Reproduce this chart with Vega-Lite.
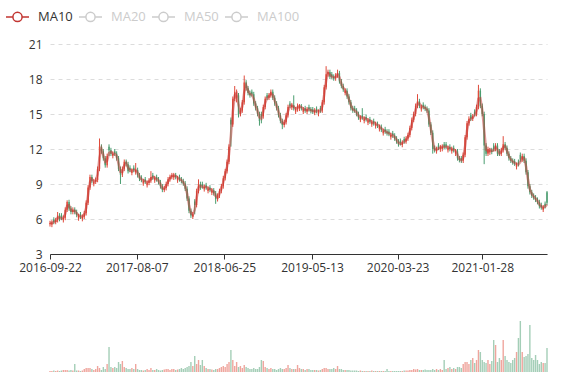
{
"$schema":"https://vega.github.io/schema/vega-lite/v6.json",
"padding":{"left":5,"top":4,"right":0,"bottom":0},
"spacing":39,
"config":{"view":{"stroke":null},"font":"Open Sans"},
"datasets":{"k":[
{"d":"2016-09-22","o":5.55,"c":5.65,"h":5.85,"l":5.35,"m":5.65,"v":1},
{"d":"2016-09-29","o":5.5,"c":5.7,"h":5.9,"l":5.3,"m":5.68,"v":1},
{"d":"2016-10-06","o":5.95,"c":5.75,"h":6.15,"l":5.55,"m":5.73,"v":1.5},
{"d":"2016-10-13","o":5.75,"c":5.9,"h":6.1,"l":5.55,"m":5.83,"v":1},
{"d":"2016-10-20","o":5.9,"c":6.3,"h":6.6,"l":5.7,"m":6.1,"v":1.5},
{"d":"2016-10-27","o":6.3,"c":6.0,"h":6.5,"l":5.8,"m":6.15,"v":1},
{"d":"2016-11-03","o":6.3,"c":6.1,"h":6.5,"l":5.9,"m":6.05,"v":1.5},
{"d":"2016-11-10","o":5.9,"c":6.1,"h":6.3,"l":5.7,"m":6.1,"v":2},
{"d":"2016-11-17","o":6.1,"c":6.8,"h":7.0,"l":5.9,"m":6.45,"v":2},
{"d":"2016-11-24","o":6.8,"c":7.45,"h":7.6,"l":6.6,"m":7.13,"v":2},
{"d":"2016-12-01","o":7.45,"c":6.9,"h":7.65,"l":6.7,"m":7.18,"v":1.5},
{"d":"2016-12-08","o":6.9,"c":6.6,"h":7.1,"l":6.4,"m":6.75,"v":2},
{"d":"2016-12-15","o":6.6,"c":6.8,"h":7.0,"l":6.4,"m":6.7,"v":1.5},
{"d":"2016-12-22","o":6.8,"c":6.6,"h":7.0,"l":6.4,"m":6.7,"v":8},
{"d":"2016-12-29","o":6.6,"c":6.35,"h":6.8,"l":6.15,"m":6.48,"v":1.5},
{"d":"2017-01-05","o":6.05,"c":6.25,"h":6.45,"l":5.85,"m":6.3,"v":1.5},
{"d":"2017-01-12","o":6.4,"c":6.2,"h":6.6,"l":6.0,"m":6.23,"v":1},
{"d":"2017-01-19","o":6.0,"c":6.2,"h":6.4,"l":5.8,"m":6.2,"v":1.5},
{"d":"2017-01-26","o":6.2,"c":6.5,"h":6.7,"l":6.0,"m":6.35,"v":3},
{"d":"2017-02-02","o":6.5,"c":7.4,"h":7.6,"l":6.3,"m":6.95,"v":4},
{"d":"2017-02-09","o":7.4,"c":8.7,"h":8.9,"l":7.2,"m":8.05,"v":4},
{"d":"2017-02-16","o":8.7,"c":9.6,"h":9.8,"l":8.5,"m":9.15,"v":4},
{"d":"2017-02-23","o":9.6,"c":9.25,"h":9.8,"l":9.05,"m":9.43,"v":3},
{"d":"2017-03-02","o":9.0,"c":9.2,"h":9.4,"l":8.8,"m":9.23,"v":2},
{"d":"2017-03-09","o":9.2,"c":9.35,"h":9.55,"l":9.0,"m":9.28,"v":3},
{"d":"2017-03-16","o":9.35,"c":10.3,"h":10.5,"l":9.15,"m":9.83,"v":6},
{"d":"2017-03-23","o":10.3,"c":12.2,"h":12.9,"l":10.1,"m":11.25,"v":4},
{"d":"2017-03-30","o":12.2,"c":11.8,"h":12.4,"l":11.6,"m":12.0,"v":2},
{"d":"2017-04-06","o":11.8,"c":11.2,"h":12.0,"l":11.0,"m":11.5,"v":5},
{"d":"2017-04-13","o":11.2,"c":10.6,"h":11.4,"l":10.4,"m":10.9,"v":3},
{"d":"2017-04-20","o":10.6,"c":11.4,"h":11.6,"l":10.4,"m":11.0,"v":8},
{"d":"2017-04-27","o":12.2,"c":11.9,"h":12.4,"l":11.4,"m":11.65,"v":25},
{"d":"2017-05-04","o":11.9,"c":11.6,"h":12.1,"l":11.4,"m":11.75,"v":5},
{"d":"2017-05-11","o":11.4,"c":11.6,"h":11.8,"l":11.2,"m":11.6,"v":4},
{"d":"2017-05-18","o":11.8,"c":11.6,"h":12.0,"l":11.4,"m":11.6,"v":5},
{"d":"2017-05-25","o":11.6,"c":11.2,"h":11.8,"l":11.0,"m":11.4,"v":4},
{"d":"2017-06-01","o":11.2,"c":10.3,"h":11.4,"l":10.1,"m":10.75,"v":10},
{"d":"2017-06-08","o":10.3,"c":9.8,"h":10.5,"l":9.0,"m":10.05,"v":8},
{"d":"2017-06-15","o":9.8,"c":10.3,"h":10.5,"l":9.6,"m":10.05,"v":11},
{"d":"2017-06-22","o":10.3,"c":10.9,"h":11.1,"l":10.1,"m":10.6,"v":5},
{"d":"2017-06-29","o":10.9,"c":10.7,"h":11.1,"l":10.5,"m":10.8,"v":4},
{"d":"2017-07-06","o":10.7,"c":10.1,"h":10.9,"l":9.9,"m":10.4,"v":3},
{"d":"2017-07-13","o":10.4,"c":10.2,"h":10.6,"l":10.0,"m":10.15,"v":3},
{"d":"2017-07-20","o":9.95,"c":10.15,"h":10.35,"l":9.75,"m":10.18,"v":4},
{"d":"2017-07-27","o":10.4,"c":10.2,"h":10.6,"l":10.0,"m":10.18,"v":3},
{"d":"2017-08-03","o":10.0,"c":10.2,"h":10.8,"l":9.8,"m":10.2,"v":8},
{"d":"2017-08-10","o":10.2,"c":9.75,"h":10.4,"l":9.55,"m":9.98,"v":3},
{"d":"2017-08-17","o":9.75,"c":9.45,"h":9.95,"l":9.25,"m":9.6,"v":2},
{"d":"2017-08-24","o":9.55,"c":9.35,"h":9.75,"l":9.15,"m":9.4,"v":2},
{"d":"2017-08-31","o":9.05,"c":9.25,"h":9.45,"l":8.85,"m":9.3,"v":1.5},
{"d":"2017-09-07","o":9.4,"c":9.2,"h":9.6,"l":9.0,"m":9.23,"v":2},
{"d":"2017-09-14","o":8.9,"c":9.1,"h":9.3,"l":8.7,"m":9.15,"v":3},
{"d":"2017-09-21","o":9.1,"c":9.3,"h":9.5,"l":8.9,"m":9.2,"v":2},
{"d":"2017-09-28","o":9.3,"c":9.6,"h":10.1,"l":9.1,"m":9.45,"v":4},
{"d":"2017-10-05","o":9.75,"c":9.55,"h":9.95,"l":9.35,"m":9.58,"v":2},
{"d":"2017-10-12","o":9.3,"c":9.5,"h":9.7,"l":9.1,"m":9.53,"v":2},
{"d":"2017-10-19","o":9.6,"c":9.4,"h":9.8,"l":9.2,"m":9.45,"v":3},
{"d":"2017-10-26","o":9.4,"c":9.15,"h":9.6,"l":8.95,"m":9.28,"v":2},
{"d":"2017-11-02","o":9.15,"c":8.8,"h":9.35,"l":8.6,"m":8.98,"v":1.5},
{"d":"2017-11-09","o":8.8,"c":8.5,"h":9.0,"l":8.3,"m":8.65,"v":2},
{"d":"2017-11-16","o":8.5,"c":8.65,"h":8.85,"l":8.3,"m":8.58,"v":2.5},
{"d":"2017-11-23","o":8.65,"c":9.0,"h":9.2,"l":8.45,"m":8.83,"v":3},
{"d":"2017-11-30","o":9.0,"c":9.4,"h":9.6,"l":8.8,"m":9.2,"v":3},
{"d":"2017-12-07","o":9.4,"c":9.6,"h":9.8,"l":9.2,"m":9.5,"v":2},
{"d":"2017-12-14","o":9.6,"c":9.75,"h":9.95,"l":9.4,"m":9.68,"v":3},
{"d":"2017-12-21","o":9.55,"c":9.75,"h":9.95,"l":9.35,"m":9.75,"v":3},
{"d":"2017-12-28","o":9.75,"c":9.6,"h":9.95,"l":9.4,"m":9.68,"v":2},
{"d":"2018-01-04","o":9.3,"c":9.5,"h":9.7,"l":9.1,"m":9.55,"v":2.5},
{"d":"2018-01-11","o":9.6,"c":9.4,"h":9.8,"l":9.2,"m":9.45,"v":3},
{"d":"2018-01-18","o":9.4,"c":9.25,"h":9.6,"l":9.05,"m":9.33,"v":4},
{"d":"2018-01-25","o":9.25,"c":9.05,"h":9.45,"l":8.85,"m":9.15,"v":3},
{"d":"2018-02-01","o":9.05,"c":8.6,"h":9.25,"l":8.4,"m":8.83,"v":4},
{"d":"2018-02-08","o":8.6,"c":7.75,"h":8.8,"l":7.55,"m":8.18,"v":5},
{"d":"2018-02-15","o":7.75,"c":6.7,"h":7.95,"l":6.5,"m":7.23,"v":6},
{"d":"2018-02-22","o":6.7,"c":6.3,"h":6.9,"l":6.1,"m":6.5,"v":10},
{"d":"2018-03-01","o":6.2,"c":6.4,"h":6.6,"l":6.0,"m":6.35,"v":6},
{"d":"2018-03-08","o":7.5,"c":7.2,"h":7.7,"l":6.4,"m":6.8,"v":16},
{"d":"2018-03-15","o":7.2,"c":8.4,"h":8.6,"l":7.0,"m":7.8,"v":8},
{"d":"2018-03-22","o":8.4,"c":9.0,"h":9.4,"l":8.2,"m":8.7,"v":12},
{"d":"2018-03-29","o":9.0,"c":8.7,"h":9.2,"l":8.5,"m":8.85,"v":7},
{"d":"2018-04-05","o":9.0,"c":8.8,"h":9.2,"l":8.6,"m":8.75,"v":12},
{"d":"2018-04-12","o":8.55,"c":8.75,"h":8.95,"l":8.35,"m":8.78,"v":6},
{"d":"2018-04-19","o":8.9,"c":8.7,"h":9.1,"l":8.5,"m":8.73,"v":4},
{"d":"2018-04-26","o":8.4,"c":8.6,"h":8.8,"l":8.2,"m":8.65,"v":3},
{"d":"2018-05-03","o":8.7,"c":8.5,"h":8.9,"l":8.3,"m":8.55,"v":3},
{"d":"2018-05-10","o":8.25,"c":8.45,"h":8.65,"l":8.05,"m":8.48,"v":2.5},
{"d":"2018-05-17","o":8.45,"c":8.2,"h":8.65,"l":8.0,"m":8.33,"v":2},
{"d":"2018-05-24","o":8.2,"c":7.7,"h":8.4,"l":7.3,"m":7.95,"v":3},
{"d":"2018-05-31","o":7.7,"c":8.0,"h":8.2,"l":7.5,"m":7.85,"v":3},
{"d":"2018-06-07","o":8.0,"c":8.4,"h":8.6,"l":7.8,"m":8.2,"v":4},
{"d":"2018-06-14","o":8.4,"c":8.8,"h":9.0,"l":8.2,"m":8.6,"v":5},
{"d":"2018-06-21","o":8.8,"c":9.5,"h":9.7,"l":8.6,"m":9.15,"v":6},
{"d":"2018-06-28","o":9.5,"c":10.1,"h":10.3,"l":9.3,"m":9.8,"v":5},
{"d":"2018-07-05","o":10.1,"c":10.9,"h":11.1,"l":9.9,"m":10.5,"v":8},
{"d":"2018-07-12","o":10.9,"c":12.2,"h":12.4,"l":10.7,"m":11.55,"v":10},
{"d":"2018-07-19","o":14.5,"c":14.1,"h":14.7,"l":12.2,"m":13.15,"v":22},
{"d":"2018-07-26","o":14.1,"c":16.3,"h":16.5,"l":13.9,"m":15.2,"v":12},
{"d":"2018-08-02","o":16.3,"c":16.9,"h":17.4,"l":16.1,"m":16.6,"v":6},
{"d":"2018-08-09","o":16.4,"c":16.6,"h":17.1,"l":16.0,"m":16.75,"v":10},
{"d":"2018-08-16","o":16.6,"c":15.0,"h":16.8,"l":14.7,"m":15.8,"v":5},
{"d":"2018-08-23","o":15.0,"c":15.3,"h":15.5,"l":14.8,"m":15.15,"v":6},
{"d":"2018-08-30","o":15.3,"c":16.0,"h":16.2,"l":15.1,"m":15.65,"v":4},
{"d":"2018-09-06","o":16.0,"c":17.7,"h":18.3,"l":15.8,"m":16.85,"v":7},
{"d":"2018-09-13","o":17.7,"c":17.2,"h":17.9,"l":17.0,"m":17.45,"v":5},
{"d":"2018-09-20","o":17.2,"c":16.8,"h":17.4,"l":16.6,"m":17.0,"v":4},
{"d":"2018-09-27","o":16.8,"c":16.6,"h":17.0,"l":16.4,"m":16.7,"v":3},
{"d":"2018-10-04","o":16.9,"c":16.7,"h":17.1,"l":16.5,"m":16.65,"v":3},
{"d":"2018-10-11","o":16.7,"c":15.9,"h":16.9,"l":15.7,"m":16.3,"v":4},
{"d":"2018-10-18","o":15.9,"c":15.5,"h":16.1,"l":15.3,"m":15.7,"v":3},
{"d":"2018-10-25","o":15.5,"c":15.0,"h":15.7,"l":14.8,"m":15.25,"v":3},
{"d":"2018-11-01","o":15.0,"c":14.4,"h":15.2,"l":14.0,"m":14.7,"v":5},
{"d":"2018-11-08","o":15.0,"c":14.8,"h":15.2,"l":14.2,"m":14.6,"v":12},
{"d":"2018-11-15","o":14.8,"c":15.6,"h":15.8,"l":14.6,"m":15.2,"v":11},
{"d":"2018-11-22","o":15.6,"c":16.3,"h":16.5,"l":15.4,"m":15.95,"v":5},
{"d":"2018-11-29","o":16.6,"c":16.4,"h":16.8,"l":16.2,"m":16.35,"v":4},
{"d":"2018-12-06","o":16.4,"c":16.6,"h":16.8,"l":16.2,"m":16.5,"v":3},
{"d":"2018-12-13","o":16.6,"c":16.9,"h":17.1,"l":16.4,"m":16.75,"v":4},
{"d":"2018-12-20","o":16.9,"c":16.4,"h":17.1,"l":16.2,"m":16.65,"v":3},
{"d":"2018-12-27","o":16.4,"c":15.9,"h":16.6,"l":15.7,"m":16.15,"v":3},
{"d":"2019-01-03","o":15.9,"c":15.5,"h":16.1,"l":15.3,"m":15.7,"v":2},
{"d":"2019-01-10","o":15.5,"c":14.9,"h":15.7,"l":14.7,"m":15.2,"v":3},
{"d":"2019-01-17","o":14.9,"c":14.4,"h":15.1,"l":14.2,"m":14.65,"v":4},
{"d":"2019-01-24","o":14.4,"c":14.05,"h":14.6,"l":13.7,"m":14.23,"v":3},
{"d":"2019-01-31","o":14.05,"c":14.3,"h":14.5,"l":13.85,"m":14.18,"v":3},
{"d":"2019-02-07","o":14.3,"c":14.9,"h":15.1,"l":14.1,"m":14.6,"v":4},
{"d":"2019-02-14","o":14.9,"c":15.6,"h":15.8,"l":14.7,"m":15.25,"v":7},
{"d":"2019-02-21","o":15.9,"c":15.7,"h":16.1,"l":15.5,"m":15.65,"v":4},
{"d":"2019-02-28","o":15.55,"c":15.75,"h":15.95,"l":15.35,"m":15.73,"v":3},
{"d":"2019-03-07","o":15.75,"c":15.5,"h":16.6,"l":15.3,"m":15.63,"v":3},
{"d":"2019-03-14","o":15.2,"c":15.4,"h":15.6,"l":15.0,"m":15.45,"v":3},
{"d":"2019-03-21","o":15.4,"c":15.7,"h":15.9,"l":15.2,"m":15.55,"v":7},
{"d":"2019-03-28","o":15.45,"c":15.65,"h":15.85,"l":15.25,"m":15.68,"v":4},
{"d":"2019-04-04","o":15.65,"c":15.5,"h":15.85,"l":15.3,"m":15.58,"v":3},
{"d":"2019-04-11","o":15.2,"c":15.4,"h":15.6,"l":15.0,"m":15.45,"v":3},
{"d":"2019-04-18","o":15.5,"c":15.3,"h":15.7,"l":15.1,"m":15.35,"v":2},
{"d":"2019-04-25","o":15.2,"c":15.4,"h":15.6,"l":15.0,"m":15.35,"v":3},
{"d":"2019-05-02","o":15.6,"c":15.4,"h":15.8,"l":15.2,"m":15.4,"v":3},
{"d":"2019-05-09","o":15.4,"c":15.25,"h":15.6,"l":15.05,"m":15.33,"v":2},
{"d":"2019-05-16","o":15.4,"c":15.2,"h":15.6,"l":15.0,"m":15.23,"v":2},
{"d":"2019-05-23","o":15.1,"c":15.3,"h":15.5,"l":14.9,"m":15.25,"v":2},
{"d":"2019-05-30","o":15.45,"c":15.25,"h":15.65,"l":15.05,"m":15.28,"v":2},
{"d":"2019-06-06","o":15.0,"c":15.2,"h":15.4,"l":14.8,"m":15.23,"v":1.5},
{"d":"2019-06-13","o":15.5,"c":15.3,"h":15.7,"l":15.1,"m":15.25,"v":2},
{"d":"2019-06-20","o":15.3,"c":16.0,"h":16.2,"l":15.1,"m":15.65,"v":3},
{"d":"2019-06-27","o":16.0,"c":17.3,"h":17.5,"l":15.8,"m":16.65,"v":4},
{"d":"2019-07-04","o":17.3,"c":18.4,"h":19.1,"l":17.1,"m":17.85,"v":4},
{"d":"2019-07-11","o":18.4,"c":18.6,"h":18.8,"l":18.2,"m":18.5,"v":3},
{"d":"2019-07-18","o":18.6,"c":18.2,"h":18.8,"l":18.0,"m":18.4,"v":3},
{"d":"2019-07-25","o":18.4,"c":18.2,"h":18.6,"l":18.0,"m":18.2,"v":3},
{"d":"2019-08-01","o":18.2,"c":18.05,"h":18.4,"l":17.85,"m":18.13,"v":4},
{"d":"2019-08-08","o":18.05,"c":18.3,"h":18.5,"l":17.85,"m":18.18,"v":3},
{"d":"2019-08-15","o":18.3,"c":18.5,"h":18.8,"l":18.1,"m":18.4,"v":6},
{"d":"2019-08-22","o":18.5,"c":17.8,"h":18.7,"l":17.6,"m":18.15,"v":3},
{"d":"2019-08-29","o":17.8,"c":17.4,"h":18.0,"l":17.2,"m":17.6,"v":3},
{"d":"2019-09-05","o":17.4,"c":17.1,"h":17.6,"l":16.9,"m":17.25,"v":2},
{"d":"2019-09-12","o":16.8,"c":17.0,"h":17.2,"l":16.6,"m":17.05,"v":2},
{"d":"2019-09-19","o":17.0,"c":16.5,"h":17.2,"l":16.3,"m":16.75,"v":2},
{"d":"2019-09-26","o":16.5,"c":16.0,"h":16.7,"l":15.8,"m":16.25,"v":2},
{"d":"2019-10-03","o":16.0,"c":15.5,"h":16.2,"l":15.3,"m":15.75,"v":1.5},
{"d":"2019-10-10","o":15.5,"c":15.3,"h":15.7,"l":15.1,"m":15.4,"v":1.5},
{"d":"2019-10-17","o":15.5,"c":15.3,"h":15.7,"l":15.1,"m":15.3,"v":1.5},
{"d":"2019-10-24","o":15.3,"c":15.0,"h":15.5,"l":14.8,"m":15.15,"v":1.5},
{"d":"2019-10-31","o":15.0,"c":14.7,"h":15.2,"l":14.5,"m":14.85,"v":1},
{"d":"2019-11-07","o":14.5,"c":14.7,"h":14.9,"l":14.3,"m":14.7,"v":1.5},
{"d":"2019-11-14","o":14.9,"c":14.7,"h":15.5,"l":14.5,"m":14.7,"v":1},
{"d":"2019-11-21","o":14.4,"c":14.6,"h":14.8,"l":14.2,"m":14.65,"v":1},
{"d":"2019-11-28","o":14.75,"c":14.55,"h":14.95,"l":14.35,"m":14.58,"v":1},
{"d":"2019-12-05","o":14.25,"c":14.45,"h":14.65,"l":14.05,"m":14.5,"v":1},
{"d":"2019-12-12","o":14.55,"c":14.35,"h":14.75,"l":14.15,"m":14.4,"v":1},
{"d":"2019-12-19","o":14.1,"c":14.3,"h":14.5,"l":13.9,"m":14.33,"v":1.5},
{"d":"2019-12-26","o":14.4,"c":14.2,"h":14.6,"l":14.0,"m":14.25,"v":1},
{"d":"2020-01-02","o":13.95,"c":14.15,"h":14.35,"l":13.75,"m":14.18,"v":1},
{"d":"2020-01-09","o":14.15,"c":14.0,"h":14.35,"l":13.8,"m":14.08,"v":1},
{"d":"2020-01-16","o":13.7,"c":13.9,"h":14.1,"l":13.5,"m":13.95,"v":1},
{"d":"2020-01-23","o":13.9,"c":13.65,"h":14.1,"l":13.45,"m":13.78,"v":1},
{"d":"2020-01-30","o":13.35,"c":13.55,"h":13.75,"l":13.15,"m":13.6,"v":1},
{"d":"2020-02-06","o":13.7,"c":13.5,"h":13.9,"l":13.3,"m":13.53,"v":1},
{"d":"2020-02-13","o":13.5,"c":13.35,"h":13.7,"l":13.15,"m":13.43,"v":3},
{"d":"2020-02-20","o":13.5,"c":13.3,"h":13.7,"l":13.1,"m":13.33,"v":1},
{"d":"2020-02-27","o":13.0,"c":13.2,"h":13.4,"l":12.8,"m":13.25,"v":1},
{"d":"2020-03-05","o":13.35,"c":13.15,"h":13.55,"l":12.95,"m":13.18,"v":1},
{"d":"2020-03-12","o":13.15,"c":12.9,"h":13.35,"l":12.7,"m":13.03,"v":1},
{"d":"2020-03-19","o":12.9,"c":12.65,"h":13.1,"l":12.45,"m":12.78,"v":1},
{"d":"2020-03-26","o":12.65,"c":12.4,"h":12.85,"l":12.2,"m":12.53,"v":1},
{"d":"2020-04-02","o":12.7,"c":12.5,"h":12.9,"l":12.3,"m":12.45,"v":1},
{"d":"2020-04-09","o":12.35,"c":12.55,"h":12.75,"l":12.15,"m":12.53,"v":1},
{"d":"2020-04-16","o":12.85,"c":12.65,"h":13.05,"l":12.45,"m":12.6,"v":1.5},
{"d":"2020-04-23","o":12.65,"c":12.9,"h":13.1,"l":12.45,"m":12.78,"v":1.5},
{"d":"2020-04-30","o":12.9,"c":13.2,"h":13.4,"l":12.7,"m":13.05,"v":1.5},
{"d":"2020-05-07","o":13.2,"c":13.8,"h":14.0,"l":13.0,"m":13.5,"v":2},
{"d":"2020-05-14","o":13.8,"c":14.5,"h":14.7,"l":13.6,"m":14.15,"v":2},
{"d":"2020-05-21","o":14.5,"c":15.0,"h":15.2,"l":14.3,"m":14.75,"v":3},
{"d":"2020-05-28","o":15.0,"c":15.7,"h":15.9,"l":14.8,"m":15.35,"v":2.5},
{"d":"2020-06-04","o":15.7,"c":16.1,"h":16.7,"l":15.5,"m":15.9,"v":3},
{"d":"2020-06-11","o":16.1,"c":15.7,"h":16.3,"l":15.5,"m":15.9,"v":2},
{"d":"2020-06-18","o":15.4,"c":15.6,"h":15.8,"l":15.2,"m":15.65,"v":2},
{"d":"2020-06-25","o":15.8,"c":15.6,"h":16.0,"l":15.4,"m":15.6,"v":2},
{"d":"2020-07-02","o":15.6,"c":15.45,"h":15.8,"l":15.25,"m":15.53,"v":2.5},
{"d":"2020-07-09","o":15.45,"c":15.3,"h":15.65,"l":15.1,"m":15.38,"v":2},
{"d":"2020-07-16","o":15.3,"c":14.1,"h":15.5,"l":13.9,"m":14.7,"v":2},
{"d":"2020-07-23","o":14.1,"c":13.4,"h":14.3,"l":13.2,"m":13.75,"v":2},
{"d":"2020-07-30","o":13.4,"c":12.0,"h":13.6,"l":11.6,"m":12.7,"v":3},
{"d":"2020-08-06","o":12.1,"c":11.9,"h":12.3,"l":11.7,"m":11.95,"v":2},
{"d":"2020-08-13","o":11.8,"c":12.0,"h":12.2,"l":11.6,"m":11.95,"v":3},
{"d":"2020-08-20","o":12.3,"c":12.1,"h":12.5,"l":11.9,"m":12.05,"v":2},
{"d":"2020-08-27","o":11.95,"c":12.15,"h":12.35,"l":11.75,"m":12.13,"v":3},
{"d":"2020-09-03","o":12.0,"c":12.2,"h":12.4,"l":11.8,"m":12.18,"v":2},
{"d":"2020-09-10","o":12.4,"c":12.2,"h":12.6,"l":12.0,"m":12.2,"v":12},
{"d":"2020-09-17","o":12.4,"c":12.2,"h":12.6,"l":12.0,"m":12.2,"v":3},
{"d":"2020-09-24","o":11.9,"c":12.1,"h":12.3,"l":11.7,"m":12.15,"v":4},
{"d":"2020-10-01","o":12.2,"c":12.0,"h":12.4,"l":11.8,"m":12.05,"v":5},
{"d":"2020-10-08","o":11.8,"c":12.0,"h":12.2,"l":11.6,"m":12.0,"v":3},
{"d":"2020-10-15","o":12.1,"c":11.9,"h":12.3,"l":11.7,"m":11.95,"v":4},
{"d":"2020-10-22","o":11.6,"c":11.8,"h":12.0,"l":11.4,"m":11.85,"v":3},
{"d":"2020-10-29","o":11.8,"c":11.2,"h":12.0,"l":11.0,"m":11.5,"v":5},
{"d":"2020-11-05","o":11.2,"c":11.05,"h":11.4,"l":10.85,"m":11.13,"v":5},
{"d":"2020-11-12","o":11.2,"c":11.0,"h":11.4,"l":10.8,"m":11.03,"v":4},
{"d":"2020-11-19","o":11.0,"c":11.5,"h":11.7,"l":10.8,"m":11.25,"v":8},
{"d":"2020-11-26","o":11.5,"c":13.0,"h":13.2,"l":11.3,"m":12.25,"v":10},
{"d":"2020-12-03","o":13.0,"c":14.2,"h":14.4,"l":12.8,"m":13.6,"v":10},
{"d":"2020-12-10","o":14.2,"c":14.6,"h":14.8,"l":14.0,"m":14.4,"v":8},
{"d":"2020-12-17","o":14.9,"c":14.6,"h":15.1,"l":14.4,"m":14.6,"v":12},
{"d":"2020-12-24","o":14.6,"c":14.8,"h":15.0,"l":14.4,"m":14.7,"v":14},
{"d":"2020-12-31","o":15.2,"c":15.0,"h":15.4,"l":14.8,"m":14.9,"v":9},
{"d":"2021-01-07","o":15.0,"c":15.6,"h":15.8,"l":14.8,"m":15.3,"v":12},
{"d":"2021-01-14","o":15.6,"c":17.0,"h":17.5,"l":15.4,"m":16.3,"v":22},
{"d":"2021-01-21","o":17.0,"c":15.7,"h":17.2,"l":15.5,"m":16.35,"v":20},
{"d":"2021-01-28","o":15.7,"c":15.0,"h":15.9,"l":14.8,"m":15.35,"v":12},
{"d":"2021-02-04","o":15.0,"c":12.3,"h":15.2,"l":10.7,"m":13.65,"v":10},
{"d":"2021-02-11","o":12.3,"c":11.6,"h":12.5,"l":11.4,"m":11.95,"v":9},
{"d":"2021-02-18","o":11.6,"c":12.0,"h":12.2,"l":11.4,"m":11.8,"v":12},
{"d":"2021-02-25","o":11.7,"c":11.9,"h":12.1,"l":11.5,"m":11.95,"v":8},
{"d":"2021-03-04","o":11.9,"c":11.75,"h":12.1,"l":11.55,"m":11.83,"v":11},
{"d":"2021-03-11","o":12.3,"c":12.0,"h":12.5,"l":11.8,"m":11.88,"v":32},
{"d":"2021-03-18","o":12.0,"c":12.3,"h":12.5,"l":11.8,"m":12.15,"v":27},
{"d":"2021-03-25","o":12.3,"c":11.6,"h":12.5,"l":11.4,"m":11.95,"v":10},
{"d":"2021-04-01","o":11.8,"c":11.6,"h":12.0,"l":11.4,"m":11.6,"v":14},
{"d":"2021-04-08","o":11.6,"c":11.9,"h":12.1,"l":11.4,"m":11.75,"v":12},
{"d":"2021-04-15","o":11.9,"c":12.4,"h":13.1,"l":11.7,"m":12.15,"v":32},
{"d":"2021-04-22","o":12.4,"c":12.1,"h":12.6,"l":11.9,"m":12.25,"v":16},
{"d":"2021-04-29","o":12.1,"c":11.6,"h":12.3,"l":11.4,"m":11.85,"v":12},
{"d":"2021-05-06","o":11.6,"c":11.2,"h":11.8,"l":11.0,"m":11.4,"v":10},
{"d":"2021-05-13","o":11.2,"c":11.0,"h":11.4,"l":10.8,"m":11.1,"v":9},
{"d":"2021-05-20","o":11.0,"c":10.85,"h":11.2,"l":10.65,"m":10.93,"v":12},
{"d":"2021-05-27","o":10.95,"c":10.75,"h":11.15,"l":10.55,"m":10.8,"v":14},
{"d":"2021-06-03","o":10.45,"c":10.65,"h":10.85,"l":10.25,"m":10.7,"v":20},
{"d":"2021-06-10","o":10.9,"c":10.7,"h":11.1,"l":10.5,"m":10.68,"v":34},
{"d":"2021-06-17","o":11.5,"c":11.1,"h":11.7,"l":10.9,"m":10.9,"v":51},
{"d":"2021-06-24","o":11.1,"c":11.4,"h":11.6,"l":10.9,"m":11.25,"v":20},
{"d":"2021-07-01","o":11.4,"c":11.0,"h":11.6,"l":10.8,"m":11.2,"v":15},
{"d":"2021-07-08","o":11.0,"c":10.0,"h":11.2,"l":9.8,"m":10.5,"v":16},
{"d":"2021-07-15","o":10.0,"c":8.8,"h":10.2,"l":8.6,"m":9.4,"v":18},
{"d":"2021-07-22","o":8.8,"c":8.3,"h":9.0,"l":8.1,"m":8.55,"v":47},
{"d":"2021-07-29","o":8.3,"c":8.0,"h":8.5,"l":7.8,"m":8.15,"v":14},
{"d":"2021-08-05","o":8.0,"c":7.85,"h":8.2,"l":7.65,"m":7.93,"v":12},
{"d":"2021-08-12","o":7.85,"c":7.65,"h":8.05,"l":7.45,"m":7.75,"v":17},
{"d":"2021-08-19","o":7.65,"c":7.45,"h":7.85,"l":7.25,"m":7.55,"v":12},
{"d":"2021-08-26","o":7.45,"c":7.1,"h":7.65,"l":6.9,"m":7.28,"v":8},
{"d":"2021-09-02","o":7.2,"c":7.0,"h":7.4,"l":6.8,"m":7.05,"v":10},
{"d":"2021-09-09","o":6.8,"c":7.0,"h":7.2,"l":6.6,"m":7.0,"v":9},
{"d":"2021-09-16","o":7.3,"c":7.1,"h":7.5,"l":6.9,"m":7.05,"v":9},
{"d":"2021-09-23","o":8.3,"c":7.4,"h":8.4,"l":7.2,"m":7.25,"v":24}
]},
"vconcat":[
{"width":497,"height":210,"data":{"name":"k"},
"encoding":{"x":{"field":"d","type":"temporal",
 "scale":{"type":"utc","padding":0,"domain":[{"year":2016,"month":9,"date":22,"utc":true},{"year":2021,"month":9,"date":23,"utc":true}]},
 "axis":{"title":null,"grid":false,"format":"%Y-%m-%d","labelFontSize":12,"labelColor":"#333","domainColor":"#333","tickColor":"#333","tickSize":5,"labelPadding":3,"labelFlush":false,"labelOverlap":false,"tickCount":20,
  "values":[{"year":2016,"month":9,"date":22,"utc":true},{"year":2017,"month":8,"date":7,"utc":true},{"year":2018,"month":6,"date":25,"utc":true},{"year":2019,"month":5,"date":13,"utc":true},{"year":2020,"month":3,"date":23,"utc":true},{"year":2021,"month":1,"date":28,"utc":true}]}}},
"layer":[
 {"mark":{"type":"rule","strokeWidth":1},
  "encoding":{"y":{"field":"l","type":"quantitative","scale":{"domain":[3,21],"nice":false,"zero":false},
    "axis":{"title":null,"values":[3,6,9,12,15,18,21],"tickCount":20,"grid":true,"gridDash":[4,4],"gridColor":"#dcdcdc","domain":false,"ticks":false,"labelPadding":8,"labelFontSize":12,"labelColor":"#333","labelOverlap":false}},
   "y2":{"field":"h"},
   "color":{"condition":{"test":"datum.c>=datum.o","value":"#e04b3c"},"value":"#4a9d6f"}}},
 {"mark":{"type":"bar","size":1.4},
  "encoding":{"y":{"field":"o","type":"quantitative"},"y2":{"field":"c"},
   "color":{"condition":{"test":"datum.c>=datum.o","value":"#e04b3c"},"value":"#4a9d6f"}}},
 {"mark":{"type":"line","strokeWidth":2.5,"opacity":0.5},
  "encoding":{"y":{"field":"m","type":"quantitative"},
   "color":{"datum":"MA10","type":"nominal","scale":{"domain":["MA10","MA20","MA50","MA100"],"range":["#c23531","#cccccc","#cccccc","#cccccc"]},
    "legend":{"orient":"none","legendX":-45,"legendY":-40,"direction":"horizontal","title":null,"padding":0,
     "symbolType":"M-1,0L-0.4,0M0.4,0L1,0M0.4,0A0.4,0.4,0,1,1,-0.4,0A0.4,0.4,0,1,1,0.4,0",
     "symbolSize":529,"symbolStrokeWidth":1.5,"symbolFillColor":"#fff","symbolOpacity":1,"labelFontSize":13,"labelOffset":8,"columnPadding":3,"labelFont":"Open Sans",
     "encode":{"labels":{"update":{"fill":{"signal":"datum.value==='MA10'?'#333':'#ccc'"}}},"symbols":{"update":{"opacity":{"value":1},"strokeOpacity":{"value":1}}}}}}}}
]},
{"width":497,"height":60,"data":{"name":"k"},
 "mark":{"type":"bar","size":1.4,"opacity":0.5},
 "encoding":{"x":{"field":"d","type":"temporal",
   "scale":{"type":"utc","padding":0,"domain":[{"year":2016,"month":9,"date":22,"utc":true},{"year":2021,"month":9,"date":23,"utc":true}]},
   "axis":{"title":null,"labels":false,"ticks":false,"grid":false,"domainColor":"#333"}},
  "y":{"field":"v","type":"quantitative","scale":{"domain":[0,60],"nice":false},"axis":null},
  "color":{"condition":{"test":"datum.c>=datum.o","value":"#e04b3c"},"value":"#4a9d6f"}}}
]
}
